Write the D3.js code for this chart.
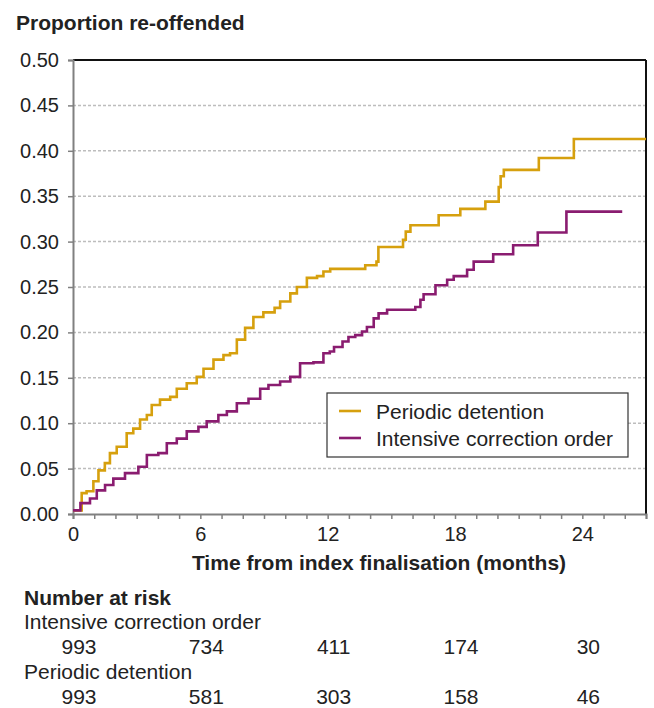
<!DOCTYPE html>
<html>
<head>
<meta charset="utf-8">
<script src="https://cdn.jsdelivr.net/npm/d3@7"></script>
<style>
  body { margin: 0; background: #fff; }
  text { font-family: "Liberation Sans", Arial, sans-serif; fill: #222; }
</style>
</head>
<body>
<script>
// step points: [month, proportion]
var pdMonths = [0,0.41,0.64,0.96,1.2,1.5,1.74,2.06,2.53,2.84,3.16,3.48,3.71,4.1,4.58,4.89,5.36,5.83,6.15,6.62,7.09,7.4,7.72,8.11,8.5,8.97,9.5,9.76,10.24,10.55,11.02,11.5,11.8,12.12,13.77,14.3,14.39,15.55,15.68,15.9,17.23,18.25,19.43,20.06,20.15,20.3,21.95,23.6,27];
var pdValues = [0.004,0.023,0.025,0.036,0.048,0.056,0.067,0.074,0.089,0.094,0.104,0.109,0.12,0.126,0.129,0.138,0.144,0.151,0.16,0.17,0.175,0.177,0.192,0.205,0.217,0.222,0.227,0.234,0.243,0.25,0.26,0.262,0.267,0.27,0.274,0.278,0.294,0.302,0.311,0.318,0.329,0.336,0.344,0.36,0.372,0.379,0.392,0.413,0.413];
var icoMonths = [0,0.35,0.8,1.12,1.51,1.9,2.45,3.08,3.48,4.02,4.42,4.89,5.36,5.91,6.3,6.85,7.25,7.72,8.27,8.82,9.21,9.76,10.24,10.7,11.33,11.8,12.1,12.3,12.7,12.98,13.3,13.62,13.85,14.17,14.4,14.8,16.13,16.37,16.52,17.08,17.63,17.94,18.57,18.88,19.8,20.74,21.9,23.25,25.88];
var icoValues = [0.004,0.012,0.017,0.026,0.032,0.039,0.045,0.052,0.065,0.067,0.078,0.083,0.091,0.096,0.102,0.109,0.113,0.122,0.127,0.138,0.142,0.146,0.151,0.166,0.167,0.177,0.179,0.184,0.19,0.195,0.197,0.201,0.206,0.2155,0.221,0.225,0.228,0.236,0.242,0.252,0.258,0.262,0.269,0.278,0.286,0.296,0.31,0.333,0.333];

var seriesNames = ["Periodic detention", "Intensive correction order"];
var seriesColors = ["#D6A00E", "#8A1C70"];

var yTicks = [0,0.05,0.1,0.15,0.2,0.25,0.3,0.35,0.4,0.45,0.5];
var xTickLabels = [0,6,12,18,24];

var riskGroups = ["Intensive correction order", "Periodic detention"];
var riskMonths = [0,6,12,18,24];
var riskIco = [993,734,411,174,30];
var riskPd = [993,581,303,158,46];

var W = 654, H = 708;
var FONT = "'Liberation Sans', Arial, sans-serif";
var svg = d3.select("body").append("svg").attr("width", W).attr("height", H);

var x = d3.scaleLinear().domain([0, 27]).range([73, 646]);
var y = d3.scaleLinear().domain([0, 0.5]).range([514, 60]);

// gridlines
svg.append("g").selectAll("line")
  .data(yTicks.filter(function(d){ return d > 0 && d < 0.5; }))
  .enter().append("line")
  .attr("x1", x(0)).attr("x2", x(27))
  .attr("y1", function(d){ return y(d); })
  .attr("y2", function(d){ return y(d); })
  .attr("stroke", "#bdbdbd")
  .attr("stroke-width", 1.5)
  .attr("stroke-dasharray", "3,2");

// top and right border
svg.append("line").attr("x1", x(0)).attr("x2", x(27)).attr("y1", y(0.5)).attr("y2", y(0.5))
  .attr("stroke", "#111").attr("stroke-width", 2);
svg.append("line").attr("x1", x(27)).attr("x2", x(27)).attr("y1", y(0.5)).attr("y2", y(0))
  .attr("stroke", "#111").attr("stroke-width", 2);

// y axis
var yAxis = d3.axisLeft(y).tickValues(yTicks).tickFormat(d3.format(".2f")).tickSize(5).tickPadding(9);
var gy = svg.append("g").attr("transform", "translate(" + x(0) + ",0)").call(yAxis);
gy.select(".domain").attr("stroke", "#808080").attr("stroke-width", 2);
gy.selectAll(".tick line").attr("stroke", "#808080").attr("stroke-width", 1.5);
gy.selectAll(".tick text").attr("font-size", 20).attr("fill", "#222").style("font-family", FONT);

// x axis: ticks each month, labels every 6
var xAxis = d3.axisBottom(x).tickValues(d3.range(0, 28)).tickSize(5).tickPadding(8)
  .tickFormat(function(d){ return xTickLabels.indexOf(d) >= 0 ? d : ""; });
var gx = svg.append("g").attr("transform", "translate(0," + y(0) + ")").call(xAxis);
gx.select(".domain").attr("stroke", "#808080").attr("stroke-width", 2);
gx.selectAll(".tick line").attr("stroke", "#808080").attr("stroke-width", 1.5);
gx.selectAll(".tick text").attr("font-size", 20).attr("fill", "#222").style("font-family", FONT);

// step curves
var line = d3.line()
  .x(function(d){ return x(d[0]); })
  .y(function(d){ return y(d[1]); })
  .curve(d3.curveStepAfter);

var seriesData = [d3.zip(pdMonths, pdValues), d3.zip(icoMonths, icoValues)];
svg.append("g").selectAll("path")
  .data(seriesData)
  .enter().append("path")
  .attr("d", line)
  .attr("fill", "none")
  .attr("stroke", function(d, i){ return seriesColors[i]; })
  .attr("stroke-width", 2.6);

// titles
svg.append("text").attr("x", 16).attr("y", 30)
  .attr("font-size", 21).attr("font-weight", "bold")
  .text("Proportion re-offended");
svg.append("text").attr("x", 379).attr("y", 570)
  .attr("text-anchor", "middle").attr("font-size", 21).attr("font-weight", "bold")
  .text("Time from index finalisation (months)");

// legend
var lg = svg.append("g").attr("transform", "translate(327,393)");
lg.append("rect").attr("width", 301).attr("height", 64)
  .attr("fill", "#fff").attr("stroke", "#333").attr("stroke-width", 1.2);
var li = lg.selectAll("g.item").data(seriesNames).enter().append("g")
  .attr("class", "item")
  .attr("transform", function(d, i){ return "translate(0," + (18 + i * 27) + ")"; });
li.append("line").attr("x1", 12).attr("x2", 34).attr("y1", 0).attr("y2", 0)
  .attr("stroke", function(d, i){ return seriesColors[i]; }).attr("stroke-width", 2.6);
li.append("text").attr("x", 49).attr("y", 7.5).attr("font-size", 21)
  .text(function(d){ return d; });

// number at risk table
svg.append("text").attr("x", 24).attr("y", 605).attr("font-size", 21).attr("font-weight", "bold")
  .text("Number at risk");
var riskRows = [riskIco, riskPd];
riskGroups.forEach(function(name, r) {
  var base = 629 + r * 50;
  svg.append("text").attr("x", 24).attr("y", base).attr("font-size", 21).text(name);
  svg.append("g").selectAll("text")
    .data(riskRows[r])
    .enter().append("text")
    .attr("x", function(d, i){ return x(riskMonths[i]) + 6; })
    .attr("y", base + 25)
    .attr("text-anchor", "middle")
    .attr("font-size", 21)
    .text(function(d){ return d; });
});
</script>
</body>
</html>
